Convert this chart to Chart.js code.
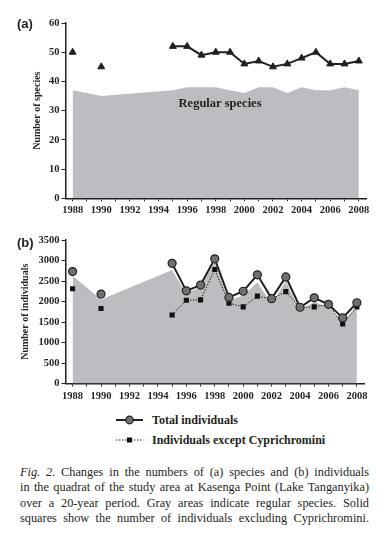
<!DOCTYPE html>
<html>
<head>
<meta charset="utf-8">
<script src="https://cdn.jsdelivr.net/npm/chart.js@4.4.1/dist/chart.umd.min.js"></script>
<style>
  html, body { margin: 0; padding: 0; background: #fff; }
  body { width: 388px; height: 549px; position: relative; overflow: hidden; font-family: "Liberation Serif", serif; color: #231f20; }
  canvas { position: absolute; left: 0; }
  .plabel { position: absolute; font-family: "Liberation Sans", Arial, sans-serif; font-weight: bold; font-size: 13px; color: #231f20; line-height: 1; }
  .leg { position: absolute; left: 116px; height: 14px; display: flex; align-items: center; font-weight: bold; font-size: 12px; }
  .leg svg { margin-right: 9px; }
  .cap { position: absolute; left: 20px; width: 349px; font-size: 12.3px; line-height: 15.4px; }
  .cap div { text-align: justify; text-align-last: justify; white-space: nowrap; }
</style>
</head>
<body>
<canvas id="ca" width="388" height="225" style="top:0;width:388px;height:225px"></canvas>
<canvas id="cb" width="388" height="185" style="top:225px;width:388px;height:185px"></canvas>
<div class="plabel" style="left:17px;top:17px">(a)</div>
<div class="plabel" style="left:17px;top:236px">(b)</div>

<div class="leg" style="top:413px">
  <svg width="27" height="10"><line x1="0" y1="5" x2="27" y2="5" stroke="#231f20" stroke-width="2"/><circle cx="13.5" cy="5" r="3.8" fill="#707072" stroke="#231f20" stroke-width="1.2"/></svg>
  <span>Total individuals</span>
</div>
<div class="leg" style="top:433px">
  <svg width="27" height="10"><line x1="0" y1="5" x2="27" y2="5" stroke="#231f20" stroke-width="1" stroke-dasharray="1.5,1.5"/><rect x="11" y="2.5" width="5" height="5" fill="#111"/></svg>
  <span>Individuals except Cyprichromini</span>
</div>

<div class="cap" style="top:465px">
  <div><i>Fig. 2.</i> Changes in the numbers of (a) species and (b) individuals</div>
  <div>in the quadrat of the study area at Kasenga Point (Lake Tanganyika)</div>
  <div>over a 20-year period. Gray areas indicate regular species. Solid</div>
  <div>squares show the number of individuals excluding Cyprichromini.</div>
</div>

<script>
// ---- data ----
const years = [1988, 1990, 1995, 1996, 1997, 1998, 1999, 2000, 2001, 2002, 2003, 2004, 2005, 2006, 2007, 2008];
const speciesTotal   = [50, 45, 52, 52, 49, 50, 50, 46, 47, 45, 46, 48, 50, 46, 46, 47];
const speciesRegular = [37, 35, 37, 38, 38, 38, 37, 36, 38, 38, 36, 38, 37, 37, 38, 37];
const indTotal    = [2730, 2180, 2930, 2260, 2400, 3040, 2100, 2250, 2650, 2070, 2600, 1860, 2090, 1930, 1600, 1970];
const indExceptCy = [2310, 1830, 1670, 2030, 2040, 2780, 1960, 1870, 2130, 2060, 2240, 1850, 1870, 1920, 1450, 1870];
const indRegular  = [2640, 2060, 2780, 2220, 2360, 2980, 2040, 2160, 2480, 1960, 2520, 1810, 2000, 1880, 1510, 1880];
const xTickLabels = ['1988','1990','1992','1994','1996','1998','2000','2002','2004','2006','2008'];
const ySpeciesTicks = [0, 10, 20, 30, 40, 50, 60];
const yIndTicks = [0, 500, 1000, 1500, 2000, 2500, 3000, 3500];
const continuousFrom = 1995;
const regularLabel = 'Regular species';

// ---- helpers ----
const pts = vals => years.map((y, i) => ({ x: y, y: vals[i] }));
const ink = '#231f20';
const gray = 'rgb(188,189,193)';
const tickFont = { family: 'Liberation Serif', weight: 'bold', size: 10.5 };
const titleFont = { family: 'Liberation Serif', weight: 'bold', size: 10 };
const firstYear = parseInt(xTickLabels[0]), lastYear = parseInt(xTickLabels[xTickLabels.length - 1]);
const allYears = [];
for (let y = firstYear; y <= lastYear; y++) allYears.push(y);

function hideEarly(color) {
  return ctx => (ctx.p0.parsed.x < continuousFrom ? 'rgba(0,0,0,0)' : color);
}

function xScale(height) {
  return {
    type: 'linear', min: firstYear - 0.5, max: lastYear + 0.5,
    afterBuildTicks: s => { s.ticks = allYears.map(v => ({ value: v })); },
    afterFit: s => { s.height = height; },
    grid: { drawOnChartArea: false, drawTicks: true, tickLength: 3, color: ink, tickWidth: 1 },
    border: { display: true, color: ink, width: 1.5 },
    ticks: { font: tickFont, color: ink, padding: 3, maxRotation: 0, autoSkip: false,
      callback: v => (xTickLabels.includes(String(v)) ? String(v) : '') }
  };
}
function yScale(ticksArr, titleText, titlePad) {
  return {
    min: ticksArr[0], max: ticksArr[ticksArr.length - 1],
    afterBuildTicks: s => { s.ticks = ticksArr.map(v => ({ value: v })); },
    afterFit: s => { s.width = 65.5; },
    grid: { drawOnChartArea: false, drawTicks: true, tickLength: 4, color: ink, tickWidth: 1 },
    border: { display: true, color: ink, width: 1.5 },
    ticks: { font: tickFont, color: ink, padding: 2, callback: v => String(v) },
    title: { display: true, text: titleText, font: titleFont, color: ink, padding: { top: titlePad, bottom: 0 } }
  };
}

const labelPlugin = {
  id: 'regLabel',
  afterDatasetsDraw(chart) {
    const { ctx, scales } = chart;
    ctx.save();
    ctx.font = 'bold 12.5px "Liberation Serif"';
    ctx.fillStyle = ink;
    ctx.textAlign = 'center';
    ctx.textBaseline = 'middle';
    ctx.fillText(regularLabel, scales.x.getPixelForValue(1998.3), scales.y.getPixelForValue(32.3));
    ctx.restore();
  }
};

new Chart(document.getElementById('ca'), {
  type: 'line',
  data: {
    datasets: [
      { data: pts(speciesTotal), borderColor: ink, borderWidth: 2,
        segment: { borderColor: hideEarly(ink) },
        pointStyle: 'triangle', pointRadius: 4, pointBackgroundColor: ink, pointBorderColor: ink, pointBorderWidth: 1,
        order: 1 },
      { data: pts(speciesRegular), fill: 'origin', backgroundColor: gray, borderWidth: 0, pointRadius: 0, order: 2 }
    ]
  },
  options: {
    responsive: false, animation: false,
    layout: { padding: { top: 23, right: 22, left: 0, bottom: 0 } },
    plugins: { legend: { display: false }, tooltip: { enabled: false } },
    scales: { x: xScale(26.7), y: yScale(ySpeciesTicks, 'Number of species', 31) }
  },
  plugins: [labelPlugin]
});

new Chart(document.getElementById('cb'), {
  type: 'line',
  data: {
    datasets: [
      { data: pts(indTotal), borderColor: ink, borderWidth: 2,
        segment: { borderColor: hideEarly(ink) },
        pointStyle: 'circle', pointRadius: 4, pointBackgroundColor: '#707072', pointBorderColor: ink, pointBorderWidth: 1.2,
        order: 1 },
      { data: pts(indExceptCy), borderColor: ink, borderWidth: 1, borderDash: [1.5, 1.5],
        segment: { borderColor: hideEarly(ink) },
        pointStyle: 'rect', pointRadius: 3.6, pointBackgroundColor: '#111', pointBorderColor: '#111', pointBorderWidth: 0,
        order: 2 },
      { data: pts(indRegular), fill: 'origin', backgroundColor: gray, borderColor: '#fff', borderWidth: 1, pointRadius: 0, order: 3 }
    ]
  },
  options: {
    responsive: false, animation: false,
    layout: { padding: { top: 15, right: 24, left: 0, bottom: 0 } },
    plugins: { legend: { display: false }, tooltip: { enabled: false } },
    scales: { x: xScale(26.5), y: yScale(yIndTicks, 'Number of individuals', 19) }
  }
});
</script>
</body>
</html>
